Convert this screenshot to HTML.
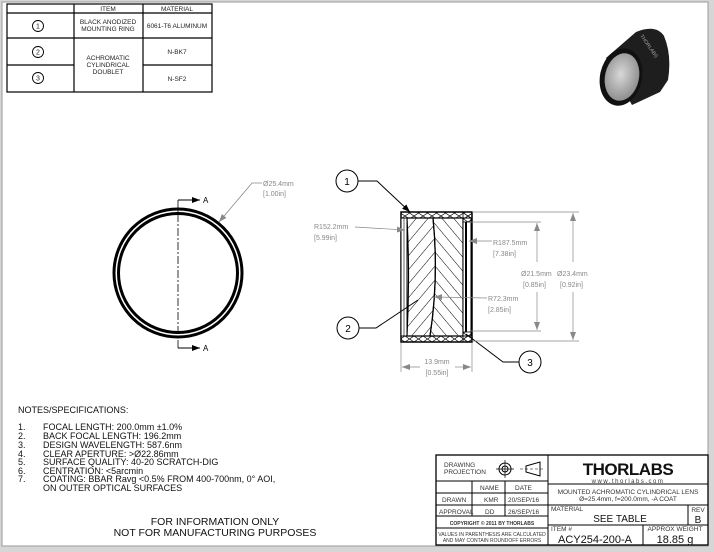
<!DOCTYPE html>
<html><head><meta charset="utf-8"><style>
html,body{margin:0;padding:0;background:#d6d6d6;}
svg{display:block;font-family:"Liberation Sans",sans-serif;}
</style></head><body>
<svg width="714" height="552" viewBox="0 0 714 552" xmlns="http://www.w3.org/2000/svg">
<defs>
<pattern id="h1" patternUnits="userSpaceOnUse" width="9" height="9" patternTransform="rotate(40)"><line x1="0" y1="0" x2="0" y2="9" stroke="#000" stroke-width="1"/></pattern>
<pattern id="h2" patternUnits="userSpaceOnUse" width="9" height="9" patternTransform="rotate(-40)"><line x1="0" y1="0" x2="0" y2="9" stroke="#000" stroke-width="1"/></pattern>
<pattern id="hx" patternUnits="userSpaceOnUse" width="9" height="6"><path d="M0,0L9,6M9,0L0,6" stroke="#000" stroke-width="0.7"/></pattern>
<marker id="ar" markerWidth="8" markerHeight="6" refX="8" refY="3" orient="auto" markerUnits="userSpaceOnUse"><path d="M0,0L8,3L0,6z" fill="#000"/></marker>
<marker id="ag" markerWidth="8" markerHeight="6" refX="8" refY="3" orient="auto" markerUnits="userSpaceOnUse"><path d="M0,0L8,3L0,6z" fill="#888"/></marker>
<radialGradient id="gl" cx="0.45" cy="0.45" r="0.6"><stop offset="0" stop-color="#d8d8d8"/><stop offset="1" stop-color="#8a8a8a"/></radialGradient>
</defs>
<rect x="2" y="2" width="706" height="544" fill="#fff" stroke="#999" stroke-width="1"/>

<!-- top table -->
<g stroke="#000" stroke-width="1.2" fill="none">
<rect x="7" y="4" width="205" height="88"/>
<line x1="7" y1="13" x2="212" y2="13"/><line x1="7" y1="38" x2="212" y2="38"/>
<line x1="7" y1="65" x2="74" y2="65"/><line x1="143" y1="65" x2="212" y2="65"/>
<line x1="74" y1="4" x2="74" y2="92"/><line x1="143" y1="4" x2="143" y2="92"/>
<circle cx="38" cy="26" r="5.5" stroke-width="0.9"/><circle cx="38" cy="52" r="5.5" stroke-width="0.9"/><circle cx="38" cy="78" r="5.5" stroke-width="0.9"/>
</g>
<g font-size="6.5" text-anchor="middle" fill="#222">
<text x="108" y="11">ITEM</text><text x="177" y="11">MATERIAL</text>
<text x="38" y="28.5" font-size="7">1</text><text x="38" y="54.5" font-size="7">2</text><text x="38" y="80.5" font-size="7">3</text>
<text x="108" y="24">BLACK ANODIZED</text><text x="108" y="31">MOUNTING RING</text>
<text x="177" y="28">6061-T6 ALUMINUM</text>
<text x="108" y="60">ACHROMATIC</text><text x="108" y="67">CYLINDRICAL</text><text x="108" y="74">DOUBLET</text>
<text x="177" y="54">N-BK7</text><text x="177" y="81">N-SF2</text>
</g>

<!-- photo -->
<g>
<path d="M606,58 L636,32 Q656,24 664,36 Q672,55 668,80 L660,92 L632,105 Z" fill="#1e1e1e"/>
<ellipse cx="621" cy="77" rx="21" ry="29" transform="rotate(12 621 77)" fill="#111"/>
<ellipse cx="622" cy="77" rx="17" ry="24" transform="rotate(12 622 77)" fill="url(#gl)"/>
<text x="640" y="36" font-size="5" fill="#aaa" transform="rotate(55 640 36)">THORLABS</text>
</g>

<!-- front view -->
<g fill="none" stroke="#000">
<circle cx="178" cy="273" r="64" stroke-width="3"/>
<circle cx="178" cy="273" r="59.5" stroke-width="3"/>
<line x1="178" y1="200" x2="178" y2="348" stroke-width="0.8" stroke-dasharray="8,2,2,2"/>
<line x1="178" y1="200" x2="200" y2="200" stroke-width="1" marker-end="url(#ar)"/>
<line x1="178" y1="348" x2="200" y2="348" stroke-width="1" marker-end="url(#ar)"/>
<polyline points="262,183 252,183 219,222" stroke="#888" stroke-width="0.8" marker-end="url(#ag)"/>
</g>
<text x="203" y="203" font-size="8">A</text><text x="203" y="351" font-size="8">A</text>
<text x="263" y="186" font-size="7" fill="#888">Ø25.4mm</text><text x="263" y="196" font-size="7" fill="#888">[1.00in]</text>

<!-- section view -->
<g>
<rect x="401" y="212" width="71" height="130" fill="#fff" stroke="#000" stroke-width="1.5"/>
<rect x="401" y="212" width="71" height="6" fill="url(#hx)" stroke="#000" stroke-width="1"/>
<rect x="401" y="336" width="71" height="6" fill="url(#hx)" stroke="#000" stroke-width="1"/>
<rect x="401" y="218" width="6" height="118" fill="#fff" stroke="#000" stroke-width="1"/>
<line x1="404" y1="218" x2="404" y2="336" stroke="#000" stroke-width="0.6"/>
<path d="M407,218 L433,218 Q439,277 430,336 L407,336 Q410,277 407,218 Z" fill="url(#h1)" stroke="#000" stroke-width="1.2"/>
<path d="M433,218 L463,218 L463,336 L430,336 Q439,277 433,218 Z" fill="url(#h2)" stroke="#000" stroke-width="1.2"/>
<rect x="463" y="218" width="8" height="118" fill="#fff" stroke="#000" stroke-width="1"/>
<line x1="466" y1="222" x2="466" y2="332" stroke="#000" stroke-width="2"/>
<rect x="463" y="212" width="9" height="10" fill="url(#hx)" stroke="#000" stroke-width="0.8"/>
<rect x="463" y="332" width="9" height="10" fill="url(#hx)" stroke="#000" stroke-width="0.8"/>
</g>
<!-- balloons -->
<g fill="#fff" stroke="#000" stroke-width="1">
<circle cx="347" cy="181" r="11"/><circle cx="348" cy="328" r="11"/><circle cx="530" cy="362" r="11"/>
<polyline points="358,181 377,181 410,212" fill="none" marker-end="url(#ar)"/>
<polyline points="359,328 376,328 418,300" fill="none"/>
<polyline points="519,362 503,362 466,334" fill="none"/>
</g>
<text x="347" y="185" font-size="10" text-anchor="middle">1</text>
<text x="348" y="332" font-size="10" text-anchor="middle">2</text>
<text x="530" y="366" font-size="10" text-anchor="middle">3</text>
<!-- dims -->
<g stroke="#888" stroke-width="0.7" fill="none">
<line x1="472" y1="212" x2="579" y2="212"/><line x1="472" y1="341" x2="579" y2="341"/>
<line x1="470" y1="222" x2="541" y2="222"/><line x1="470" y1="331" x2="541" y2="331"/>
<line x1="537" y1="262" x2="537" y2="223" marker-end="url(#ag)"/><line x1="537" y1="292" x2="537" y2="330" marker-end="url(#ag)"/>
<line x1="573" y1="262" x2="573" y2="213" marker-end="url(#ag)"/><line x1="573" y1="292" x2="573" y2="340" marker-end="url(#ag)"/>
<line x1="401" y1="343" x2="401" y2="372"/><line x1="472" y1="343" x2="472" y2="372"/>
<line x1="420" y1="367" x2="402" y2="367" marker-end="url(#ag)"/><line x1="455" y1="367" x2="471" y2="367" marker-end="url(#ag)"/>
<line x1="355" y1="227" x2="405" y2="230" marker-end="url(#ag)"/>
<line x1="492" y1="241" x2="469" y2="241" marker-end="url(#ag)"/>
<line x1="487" y1="298" x2="434" y2="297" marker-end="url(#ag)"/>
</g>
<g font-size="7" fill="#888">
<text x="314" y="229">R152.2mm</text><text x="314" y="240">[5.99in]</text>
<text x="493" y="245">R187.5mm</text><text x="493" y="256">[7.38in]</text>
<text x="488" y="301">R72.3mm</text><text x="488" y="312">[2.85in]</text>
<text x="521" y="276">Ø21.5mm</text><text x="523" y="287">[0.85in]</text>
<text x="557" y="276">Ø23.4mm</text><text x="560" y="287">[0.92in]</text>
<text x="437" y="364" text-anchor="middle">13.9mm</text><text x="437" y="375" text-anchor="middle">[0.55in]</text>
</g>

<!-- notes -->
<g font-size="9" fill="#111">
<text x="18" y="413">NOTES/SPECIFICATIONS:</text>
<text x="18" y="430">1.</text><text x="43" y="430">FOCAL LENGTH: 200.0mm ±1.0%</text>
<text x="18" y="439">2.</text><text x="43" y="439">BACK FOCAL LENGTH: 196.2mm</text>
<text x="18" y="448">3.</text><text x="43" y="448">DESIGN WAVELENGTH: 587.6nm</text>
<text x="18" y="457">4.</text><text x="43" y="457">CLEAR APERTURE: &gt;Ø22.86mm</text>
<text x="18" y="465">5.</text><text x="43" y="465">SURFACE QUALITY: 40-20 SCRATCH-DIG</text>
<text x="18" y="474">6.</text><text x="43" y="474">CENTRATION: &lt;5arcmin</text>
<text x="18" y="482">7.</text><text x="43" y="482">COATING: BBAR Ravg &lt;0.5% FROM 400-700nm, 0° AOI,</text>
<text x="43" y="491">ON OUTER OPTICAL SURFACES</text>
<text x="215" y="525" font-size="10.5" text-anchor="middle">FOR INFORMATION ONLY</text>
<text x="215" y="536" font-size="10.5" text-anchor="middle">NOT FOR MANUFACTURING PURPOSES</text>
</g>

<!-- title block -->
<g stroke="#000" stroke-width="1" fill="none">
<rect x="436" y="455" width="272" height="90" stroke-width="1.3"/>
<line x1="548" y1="455" x2="548" y2="545"/>
<line x1="436" y1="481" x2="548" y2="481"/><line x1="436" y1="493" x2="548" y2="493"/>
<line x1="436" y1="505" x2="548" y2="505"/><line x1="436" y1="516" x2="548" y2="516"/>
<line x1="436" y1="528" x2="548" y2="528"/>
<line x1="472" y1="481" x2="472" y2="516"/><line x1="505" y1="481" x2="505" y2="516"/>
<line x1="548" y1="484" x2="708" y2="484"/><line x1="548" y1="505" x2="708" y2="505"/>
<line x1="548" y1="525" x2="708" y2="525"/>
<line x1="688" y1="505" x2="688" y2="525"/><line x1="643" y1="525" x2="643" y2="545"/>
<circle cx="505" cy="469" r="6"/><circle cx="505" cy="469" r="3"/>
<line x1="496" y1="469" x2="514" y2="469" stroke-width="0.7"/><line x1="505" y1="460" x2="505" y2="478" stroke-width="0.7"/>
<path d="M526,466 L540,462 L540,476 L526,472 Z"/>
<line x1="520" y1="469" x2="545" y2="469" stroke-width="0.6" stroke-dasharray="3,2"/>
</g>
<g font-size="6.5" fill="#333">
<text x="444" y="467">DRAWING</text><text x="444" y="474">PROJECTION</text>
<text x="480" y="490">NAME</text><text x="515" y="490">DATE</text>
<text x="442" y="502">DRAWN</text><text x="484" y="502">KMR</text><text x="508" y="502">20/SEP/16</text>
<text x="439" y="514">APPROVAL</text><text x="485" y="514">DD</text><text x="508" y="514">26/SEP/16</text>
<text x="492" y="525" font-size="5" text-anchor="middle" font-weight="bold">COPYRIGHT © 2011 BY THORLABS</text>
<text x="492" y="536" font-size="5" text-anchor="middle">VALUES IN PARENTHESIS ARE CALCULATED</text>
<text x="492" y="542" font-size="5" text-anchor="middle">AND MAY CONTAIN ROUNDOFF ERRORS</text>
<text x="628" y="475" font-size="17" font-weight="bold" text-anchor="middle" fill="#111" letter-spacing="-0.5">THORLABS</text>
<text x="628" y="483" font-size="6" text-anchor="middle" letter-spacing="1.5">www.thorlabs.com</text>
<text x="628" y="494" font-size="6.5" text-anchor="middle">MOUNTED ACHROMATIC CYLINDRICAL LENS</text>
<text x="628" y="501" font-size="6.5" text-anchor="middle">Ø=25.4mm, f=200.0mm, -A COAT</text>
<text x="551" y="511">MATERIAL</text>
<text x="620" y="522" font-size="10" text-anchor="middle" fill="#111">SEE TABLE</text>
<text x="698" y="512" text-anchor="middle">REV</text>
<text x="698" y="523" font-size="10" text-anchor="middle" fill="#111">B</text>
<text x="551" y="531">ITEM #</text>
<text x="595" y="543" font-size="11" text-anchor="middle" fill="#111">ACY254-200-A</text>
<text x="675" y="531" text-anchor="middle">APPROX WEIGHT</text>
<text x="675" y="543" font-size="11" text-anchor="middle" fill="#111">18.85 g</text>
</g>
</svg>
</body></html>
